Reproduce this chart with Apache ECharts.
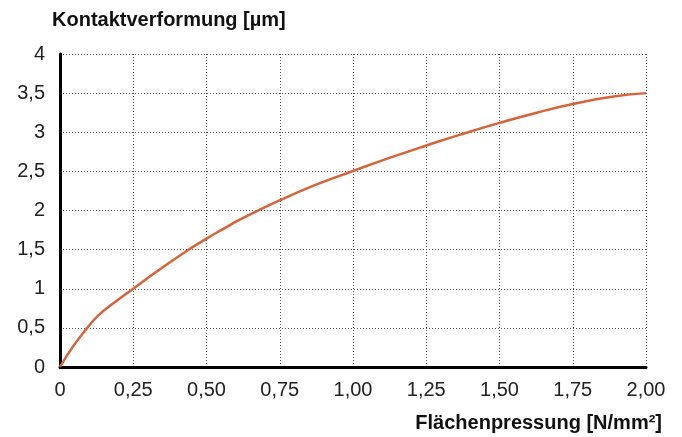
<!DOCTYPE html>
<html><head><meta charset="utf-8">
<script src="https://cdn.jsdelivr.net/npm/echarts@6/dist/echarts.min.js"></script>
<style>html,body{margin:0;padding:0;background:#fff}#c{width:682px;height:437px}</style>
</head><body><div id="c"></div>
<script>
var pressure = [0, 0.044, 0.091, 0.131, 0.181, 0.25, 0.323, 0.427, 0.5, 0.548, 0.62, 0.75, 0.874, 1.0, 1.127, 1.25, 1.366, 1.5, 1.627, 1.75, 1.877, 2.0];
var deformation = [0, 0.26, 0.49, 0.66, 0.81, 1.0, 1.2, 1.47, 1.64, 1.745, 1.895, 2.13, 2.33, 2.505, 2.675, 2.83, 2.97, 3.12, 3.25, 3.36, 3.45, 3.5];
var yTitle = 'Kontaktverformung [µm]';
var xTitle = 'Flächenpressung [N/mm²]';

var chart = echarts.init(document.getElementById('c'), null, {renderer: 'canvas'});
var font = '"Liberation Sans", Arial, sans-serif';
chart.setOption({
  animation: false,
  grid: {left: 60, right: 36, top: 54, bottom: 70},
  xAxis: {
    type: 'value', min: 0, max: 2, interval: 0.25,
    axisLine: {show: true, onZero: false, lineStyle: {color: '#000', width: 3}},
    axisTick: {show: false},
    axisLabel: {margin: 13, fontSize: 20, color: '#222', fontFamily: font,
      formatter: function (v) { return v === 0 ? '0' : v.toFixed(2).replace('.', ','); }},
    splitLine: {show: true, lineStyle: {color: '#555', width: 1, type: [1, 2]}}
  },
  yAxis: {
    type: 'value', min: 0, max: 4, interval: 0.5,
    axisLine: {show: true, onZero: false, lineStyle: {color: '#000', width: 3}},
    axisTick: {show: false},
    axisLabel: {margin: 15, fontSize: 20, color: '#222', fontFamily: font,
      formatter: function (v) { return String(v).replace('.', ','); }},
    splitLine: {show: true, lineStyle: {color: '#555', width: 1, type: [1, 2]}}
  },
  graphic: [
    {type: 'text', left: 52, top: 10, style: {text: yTitle, font: 'bold 20px ' + font, fill: '#111'}},
    {type: 'text', right: 20, top: 413, style: {text: xTitle, font: 'bold 20px ' + font, fill: '#111'}}
  ],
  series: [{
    type: 'line', smooth: 0.5, showSymbol: false,
    data: pressure.map(function (p, i) { return [p, deformation[i]]; }),
    lineStyle: {color: '#d8623a', width: 2.5}
  }]
});
</script></body></html>
